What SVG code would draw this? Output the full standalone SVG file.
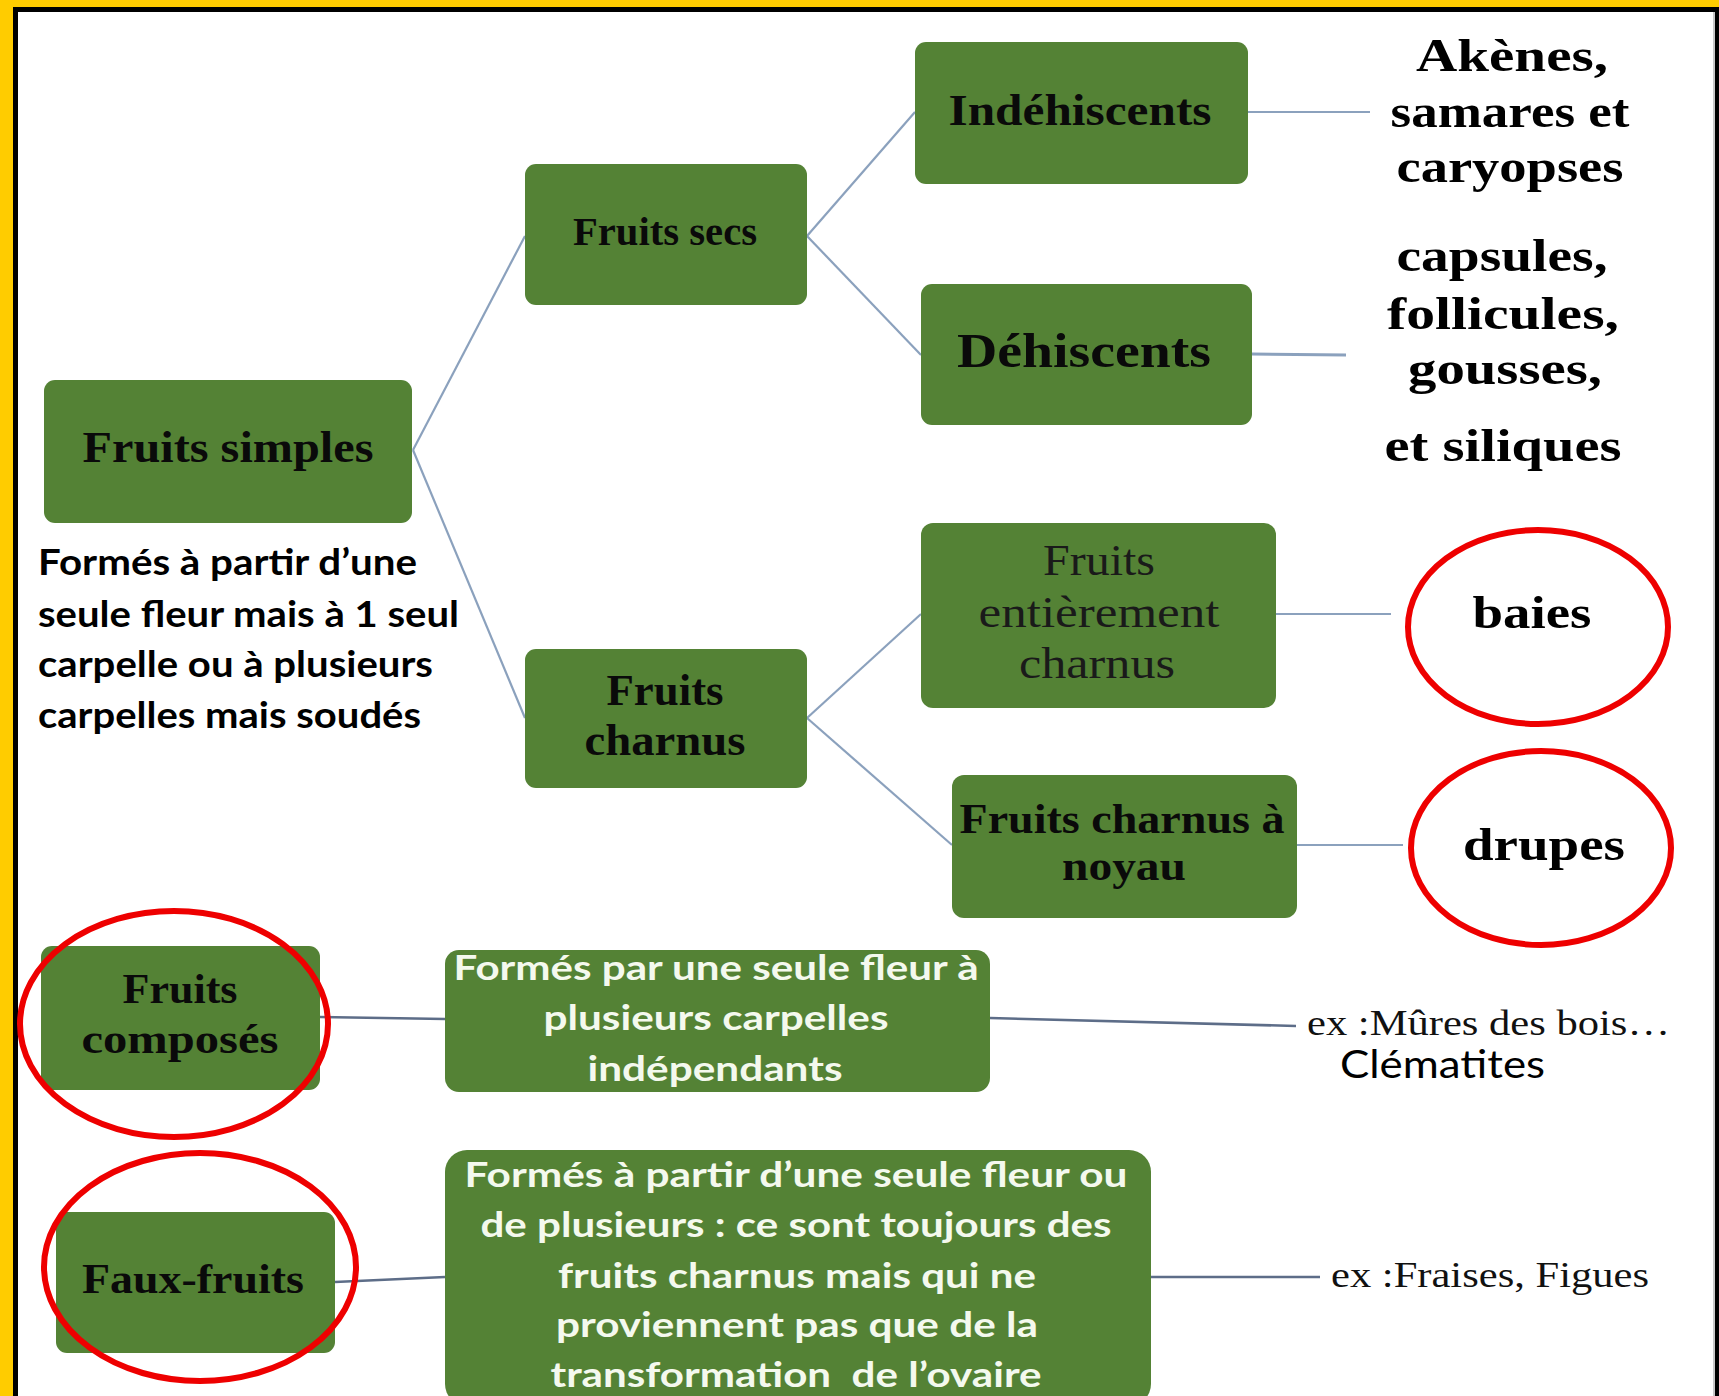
<svg xmlns="http://www.w3.org/2000/svg" width="1719" height="1396" viewBox="0 0 1719 1396">
<style>
.box{fill:#548235}
.st{font-family:"Liberation Serif","DejaVu Serif",serif;font-weight:bold;fill:#0a0a0a;text-anchor:middle}
.sr{font-family:"Liberation Serif","DejaVu Serif",serif;font-weight:normal;fill:#1a1a1a;text-anchor:middle}
.lbl{font-family:"Liberation Serif","DejaVu Serif",serif;font-weight:bold;fill:#000;text-anchor:middle;font-size:46px}
.ex{font-family:"Liberation Serif","DejaVu Serif",serif;fill:#111;font-size:36px}
.wt{font-family:Lato,"Open Sans",sans-serif;font-weight:bold;fill:#f4f9ee;text-anchor:middle;font-size:34px}
.bt{font-family:Lato,"Open Sans",sans-serif;font-weight:bold;fill:#000;font-size:36px}
.c{stroke:#8ba1bd;stroke-width:2.2;fill:none}
.c2{stroke:#5d6d88;stroke-width:2.6;fill:none}
.ring{fill:none;stroke:#ee0000;stroke-width:6}
</style>
<rect x="0" y="0" width="1719" height="1396" fill="#ffcc00"/>
<rect x="13" y="7" width="1720" height="1400" fill="#000"/>
<rect x="18" y="12" width="1696" height="1400" fill="#fff"/>
<rect x="1713" y="12" width="2" height="1400" fill="#c8c8c8"/>

<g id="connectors">
<line class="c" x1="413" y1="450" x2="525" y2="236"/>
<line class="c" x1="413" y1="450" x2="525" y2="718"/>
<line class="c" x1="807" y1="236" x2="915" y2="112"/>
<line class="c" x1="807" y1="236" x2="921" y2="355"/>
<line class="c" x1="807" y1="718" x2="921" y2="614"/>
<line class="c" x1="807" y1="718" x2="952" y2="845"/>
<line class="c" x1="1248" y1="112" x2="1370" y2="112"/>
<line class="c" x1="1252" y1="354" x2="1346" y2="355" style="stroke-width:3"/>
<line class="c" x1="1276" y1="614" x2="1391" y2="614"/>
<line class="c" x1="1297" y1="845" x2="1403" y2="845"/>
<line class="c2" x1="320" y1="1017" x2="445" y2="1019"/>
<line class="c2" x1="990" y1="1018" x2="1296" y2="1026"/>
<line class="c2" x1="335" y1="1282" x2="445" y2="1277"/>
<line class="c2" x1="1150" y1="1277" x2="1320" y2="1277"/>
</g>

<g id="fruits-simples">
<rect class="box" x="44" y="380" width="368" height="143" rx="11"/>
<text class="st" x="228" y="462" font-size="44" textLength="291" lengthAdjust="spacingAndGlyphs">Fruits simples</text>
</g>
<g id="fruits-simples-desc">
<text class="bt" x="38" y="575" textLength="379" lengthAdjust="spacingAndGlyphs">Formés à partir d’une</text>
<text class="bt" x="38" y="627" textLength="421" lengthAdjust="spacingAndGlyphs">seule fleur mais à 1 seul</text>
<text class="bt" x="38" y="677" textLength="395" lengthAdjust="spacingAndGlyphs">carpelle ou à plusieurs</text>
<text class="bt" x="38" y="728" textLength="383" lengthAdjust="spacingAndGlyphs">carpelles mais soudés</text>
</g>
<g id="fruits-secs">
<rect class="box" x="525" y="164" width="282" height="141" rx="11"/>
<text class="st" x="665" y="245" font-size="40" textLength="184" lengthAdjust="spacingAndGlyphs">Fruits secs</text>
</g>
<g id="indehiscents">
<rect class="box" x="915" y="42" width="333" height="142" rx="11"/>
<text class="st" x="1080" y="125" font-size="44" textLength="263" lengthAdjust="spacingAndGlyphs">Indéhiscents</text>
</g>
<g id="dehiscents">
<rect class="box" x="921" y="284" width="331" height="141" rx="11"/>
<text class="st" x="1084" y="367" font-size="48" textLength="254" lengthAdjust="spacingAndGlyphs">Déhiscents</text>
</g>
<g id="akenes">
<text class="lbl" x="1512" y="71" textLength="192" lengthAdjust="spacingAndGlyphs">Akènes,</text>
<text class="lbl" x="1510" y="127" textLength="239" lengthAdjust="spacingAndGlyphs">samares et</text>
<text class="lbl" x="1510" y="182" textLength="227" lengthAdjust="spacingAndGlyphs">caryopses</text>
</g>
<g id="capsules">
<text class="lbl" x="1502" y="271" textLength="211" lengthAdjust="spacingAndGlyphs">capsules,</text>
<text class="lbl" x="1503" y="329" textLength="232" lengthAdjust="spacingAndGlyphs">follicules,</text>
<text class="lbl" x="1505" y="384" textLength="194" lengthAdjust="spacingAndGlyphs">gousses,</text>
<text class="lbl" x="1503" y="461" textLength="237" lengthAdjust="spacingAndGlyphs">et siliques</text>
</g>
<g id="fruits-charnus">
<rect class="box" x="525" y="649" width="282" height="139" rx="11"/>
<text class="st" x="665" y="705" font-size="44" textLength="117" lengthAdjust="spacingAndGlyphs">Fruits</text>
<text class="st" x="665" y="755" font-size="44" textLength="161" lengthAdjust="spacingAndGlyphs">charnus</text>
</g>
<g id="fruits-entierement-charnus">
<rect class="box" x="921" y="523" width="355" height="185" rx="12"/>
<text class="sr" x="1099" y="575" font-size="44" textLength="112" lengthAdjust="spacingAndGlyphs">Fruits</text>
<text class="sr" x="1099" y="627" font-size="44" textLength="241" lengthAdjust="spacingAndGlyphs">entièrement</text>
<text class="sr" x="1097" y="678" font-size="44" textLength="156" lengthAdjust="spacingAndGlyphs">charnus</text>
</g>
<g id="baies">
<ellipse class="ring" cx="1538" cy="627" rx="130" ry="97"/>
<text class="lbl" x="1532" y="628" textLength="119" lengthAdjust="spacingAndGlyphs">baies</text>
</g>
<g id="fruits-charnus-noyau">
<rect class="box" x="952" y="775" width="345" height="143" rx="12"/>
<text class="st" x="1122" y="833" font-size="42" textLength="325" lengthAdjust="spacingAndGlyphs">Fruits charnus à</text>
<text class="st" x="1124" y="880" font-size="42" textLength="124" lengthAdjust="spacingAndGlyphs">noyau</text>
</g>
<g id="drupes">
<ellipse class="ring" cx="1541" cy="848" rx="130" ry="97"/>
<text class="lbl" x="1544" y="860" textLength="162" lengthAdjust="spacingAndGlyphs">drupes</text>
</g>
<g id="fruits-composes">
<rect class="box" x="41" y="946" width="279" height="144" rx="11"/>
<text class="st" x="180" y="1003" font-size="42" textLength="115" lengthAdjust="spacingAndGlyphs">Fruits</text>
<text class="st" x="180" y="1053" font-size="42" textLength="197" lengthAdjust="spacingAndGlyphs">composés</text>
<ellipse class="ring" cx="174" cy="1024" rx="154" ry="113"/>
</g>
<g id="composes-desc">
<rect class="box" x="445" y="950" width="545" height="142" rx="14"/>
<text class="wt" x="716" y="980" textLength="525" lengthAdjust="spacingAndGlyphs">Formés par une seule fleur à</text>
<text class="wt" x="716" y="1030" textLength="345" lengthAdjust="spacingAndGlyphs">plusieurs carpelles</text>
<text class="wt" x="715" y="1081" textLength="255" lengthAdjust="spacingAndGlyphs">indépendants</text>
</g>
<g id="ex-mures">
<text class="ex" x="1307" y="1035" textLength="363" lengthAdjust="spacingAndGlyphs">ex :Mûres des bois…</text>
<text x="1340" y="1078" font-family="Lato,'Open Sans',sans-serif" font-size="38" fill="#000" textLength="205" lengthAdjust="spacingAndGlyphs">Clématites</text>
</g>
<g id="faux-fruits">
<rect class="box" x="56" y="1212" width="279" height="141" rx="11"/>
<text class="st" x="193" y="1293" font-size="42" textLength="222" lengthAdjust="spacingAndGlyphs">Faux-fruits</text>
<ellipse class="ring" cx="200" cy="1267" rx="156" ry="114"/>
</g>
<g id="faux-desc">
<rect class="box" x="445" y="1150" width="706" height="256" rx="22"/>
<text class="wt" x="796" y="1187" textLength="663" lengthAdjust="spacingAndGlyphs">Formés à partir d’une seule fleur ou</text>
<text class="wt" x="796" y="1237" textLength="631" lengthAdjust="spacingAndGlyphs">de plusieurs : ce sont toujours des</text>
<text class="wt" x="797" y="1288" textLength="478" lengthAdjust="spacingAndGlyphs">fruits charnus mais qui ne</text>
<text class="wt" x="797" y="1337" textLength="482" lengthAdjust="spacingAndGlyphs">proviennent pas que de la</text>
<text class="wt" x="796" y="1387" xml:space="preserve" textLength="491" lengthAdjust="spacingAndGlyphs">transformation  de l’ovaire</text>
</g>
<g id="ex-fraises">
<text class="ex" x="1331" y="1287" textLength="318" lengthAdjust="spacingAndGlyphs">ex :Fraises, Figues</text>
</g>
</svg>
